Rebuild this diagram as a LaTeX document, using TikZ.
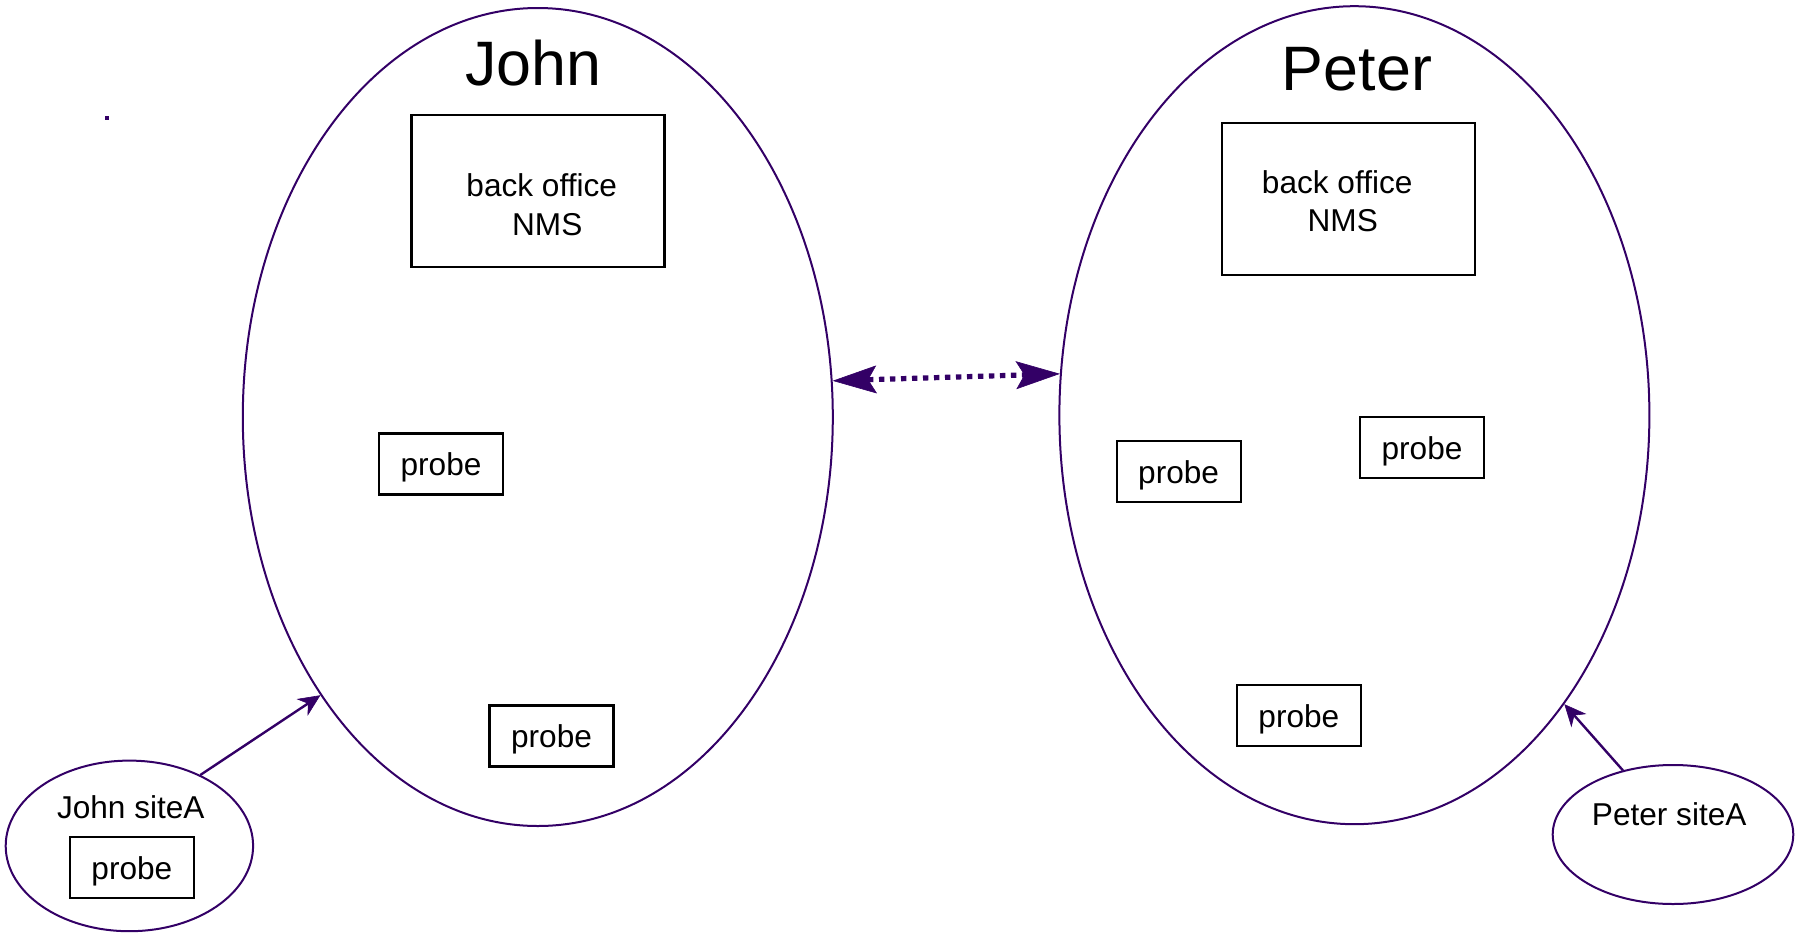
\documentclass[tikz,border=0pt]{standalone}
\usepackage{fontspec}
\setmainfont{Liberation Sans}
\usetikzlibrary{shapes.geometric,positioning,arrows.meta}
\definecolor{netpurple}{RGB}{51,0,102}
\newcommand{\fs}{\fontsize{15.8}{19.2}\selectfont}
\tikzstyle{arrow} = [draw=netpurple, line width=1.2pt, -{Stealth[length=11pt,width=10pt,inset=3.5pt,line width=0.3pt]}]
\tikzset{
 e/.style
  = {ellipse, draw=netpurple, line width=1pt, inner sep=0pt, minimum width=295pt, minimum height=409pt},
 ee/.style
  = {ellipse, draw=netpurple, line width=1pt, inner sep=0pt},
 b/.style
  = {rectangle, draw, line width=1.1pt, minimum width=126.5pt, minimum height=76pt},
 p/.style
  = {rectangle, draw, line width=1.1pt, inner sep=0pt, minimum width=62pt, minimum height=30.5pt,
     text height=15pt, text depth=3.3pt, font=\fs},
 t/.style
  = {anchor=base, inner sep=0pt, font=\fs, align=center},
 tt/.style
  = {anchor=base, inner sep=0pt, font=\fontsize{31.4}{37}\selectfont},
 ll/.style
  = {draw=netpurple, line width=2.6pt, dash pattern=on 2.7pt off 2.8pt,
     {Stealth[length=22pt,width=14pt,inset=4.2pt,line width=0.3pt]}-{Stealth[length=22pt,width=14pt,inset=4.2pt,line width=0.3pt]}},
}

\begin{document}
\begin{tikzpicture}[x=0.5pt, y=-0.5pt]
    \useasboundingbox (0,0) rectangle (1796,938);

    \node [e] (john) at (537.8,417) {};
    \node [e] (peter) at (1354.4,415.2) {};
    \node [ee, minimum width=123.7pt, minimum height=85.3pt] (jsite) at (129.4,845.9) {};
    \node [ee, minimum width=120.3pt, minimum height=69.5pt] (psite) at (1673,834.5) {};
    \node [fill=netpurple, inner sep=0pt, minimum size=2pt] (dot) at (106.7,118.3) {};

    \node [tt] (johntitle) at (533.5,85.6) {John};
    \node [tt] (petertitle) at (1357,90.6) {Peter};

    \node [b] (jnms) at (538,190.8) {};
    \node [t] (jnmstext) at (541.7,235) {back office\\\hspace*{0.35em}NMS};
    \node [b] (pnms) at (1348.3,198.8) {};
    \node [t] (pnmstext) at (1337.2,231.7) {back office\\\hspace*{0.35em}NMS};

    \node [p] (jprobe1) at (441,463.9) {probe};
    \node [p] (jprobe2) at (551.5,736) {probe};
    \node [p] (pprobe1) at (1178.6,471.3) {probe};
    \node [p] (pprobe2) at (1422,447.3) {probe};
    \node [p] (pprobe3) at (1298.9,715.3) {probe};

    \node [t] (jsitetext) at (130.8,818) {John siteA};
    \node [p] (jsiteprobe) at (131.9,867.7) {probe};
    \node [t] (psitetext) at (1669.2,825) {Peter siteA};

    \path [ll] (john.7.5) -- (peter.172.4);
    \path [arrow] (jsite.45) -- (john.232.5);
    \path [arrow] (psite.128) -- (peter.306.5);
  \end{tikzpicture}
\end{document}
